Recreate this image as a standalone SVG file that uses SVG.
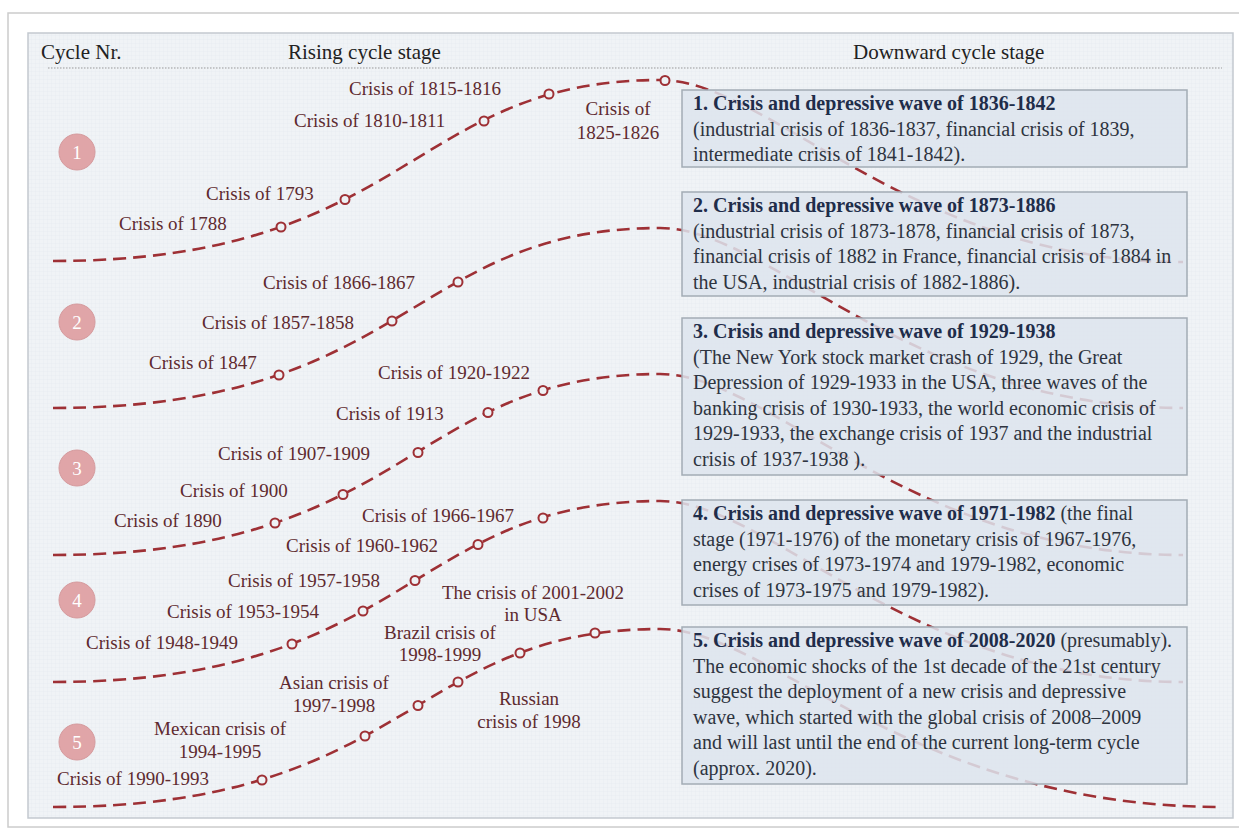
<svg xmlns="http://www.w3.org/2000/svg" width="1239" height="829" viewBox="0 0 1239 829">
<defs>
<pattern id="grid" width="4" height="4" patternUnits="userSpaceOnUse">
<rect width="4" height="4" fill="#f0f3f6"/>
<path d="M4,0V4M0,4H4" stroke="#e5e9ee" stroke-width="0.6"/>
</pattern>
<style>
.hdr{font-family:"Liberation Serif","Times New Roman",serif;font-size:21px;fill:#222}
.lbl{font-family:"Liberation Serif","Times New Roman",serif;font-size:19px;fill:#5e2a2f}
.lblc{font-family:"Liberation Serif","Times New Roman",serif;font-size:19px;fill:#5e2a2f;text-anchor:middle}
.box{fill:#dde4ed;fill-opacity:0.86;stroke:#a3acb5;stroke-width:1.5}
.bt{font-family:"Liberation Serif","Times New Roman",serif;font-size:20px;fill:#2e3440}
.bb{font-weight:bold;fill:#1f2d4a}
.curve{fill:none;stroke:#9e3035;stroke-width:2.6;stroke-dasharray:13 7}
.mk{fill:#eef2f5;stroke:#9e3035;stroke-width:2}
.cyc{fill:#e0a5a8;stroke:#d59a9d;stroke-width:1}
.cn{font-family:"Liberation Serif","Times New Roman",serif;font-size:19px;fill:#ffffff;text-anchor:middle}
</style>
</defs>
<rect x="0" y="0" width="1239" height="829" fill="#ffffff"/>
<rect x="8" y="13" width="1240" height="814" fill="#ffffff" stroke="#cccccc" stroke-width="1.5"/>
<rect x="28" y="33" width="1205" height="785" fill="url(#grid)" stroke="#c3c9cf" stroke-width="1.5"/>

<g id="header">
<text class="hdr" x="41" y="59">Cycle Nr.</text>
<text class="hdr" x="288" y="59">Rising cycle stage</text>
<text class="hdr" x="853" y="59">Downward cycle stage</text>
<line x1="48" y1="68" x2="1222" y2="68" stroke="#9a9a9a" stroke-width="1" stroke-dasharray="1.5 1.5"/>
</g>

<g id="connectors">
<path class="curve" d="M53,261 C410,261 410,80 660,80 C770,80 910,262 1183,262"/>
<path class="curve" d="M53,408 C410,408 410,228 660,228 C770,228 910,408 1183,408"/>
<path class="curve" d="M53,555 C410,555 410,374 660,374 C770,374 910,555 1183,555"/>
<path class="curve" d="M53,682 C410,682 410,501 660,501 C770,501 910,682 1183,682"/>
<path class="curve" d="M53,807 C410,807 410,629 660,629 C770,629 910,807 1222,807"/>
</g>

<g id="markers">
<circle class="mk" cx="281" cy="227" r="4.5"/>
<circle class="mk" cx="345" cy="199.5" r="4.5"/>
<circle class="mk" cx="484" cy="121" r="4.5"/>
<circle class="mk" cx="549" cy="94" r="4.5"/>
<circle class="mk" cx="665" cy="80.5" r="4.5"/>
<circle class="mk" cx="279" cy="375" r="4.5"/>
<circle class="mk" cx="392" cy="321" r="4.5"/>
<circle class="mk" cx="458" cy="282" r="4.5"/>
<circle class="mk" cx="275" cy="523" r="4.5"/>
<circle class="mk" cx="343" cy="494.5" r="4.5"/>
<circle class="mk" cx="418" cy="452.5" r="4.5"/>
<circle class="mk" cx="488" cy="412.5" r="4.5"/>
<circle class="mk" cx="543" cy="390.5" r="4.5"/>
<circle class="mk" cx="292" cy="644" r="4.5"/>
<circle class="mk" cx="363" cy="611" r="4.5"/>
<circle class="mk" cx="415" cy="580.5" r="4.5"/>
<circle class="mk" cx="478" cy="544.5" r="4.5"/>
<circle class="mk" cx="543" cy="518" r="4.5"/>
<circle class="mk" cx="262" cy="780" r="4.5"/>
<circle class="mk" cx="365" cy="736" r="4.5"/>
<circle class="mk" cx="418" cy="705.5" r="4.5"/>
<circle class="mk" cx="458" cy="682" r="4.5"/>
<circle class="mk" cx="520" cy="653" r="4.5"/>
<circle class="mk" cx="595" cy="633" r="4.5"/>
</g>

<g id="box1">
<rect class="box" x="682" y="90" width="505" height="77"/>
<text class="bt" x="693" y="110"><tspan class="bb">1. Crisis and depressive wave of 1836-1842</tspan><tspan x="693" dy="25.6">(industrial crisis of 1836-1837, financial crisis of 1839,</tspan><tspan x="693" dy="25.6">intermediate crisis of 1841-1842).</tspan></text>
</g>
<g id="box2">
<rect class="box" x="682" y="192" width="505" height="104"/>
<text class="bt" x="693" y="212"><tspan class="bb">2. Crisis and depressive wave of 1873-1886</tspan><tspan x="693" dy="25.6">(industrial crisis of 1873-1878, financial crisis of 1873,</tspan><tspan x="693" dy="25.6">financial crisis of 1882 in France, financial crisis of 1884 in</tspan><tspan x="693" dy="25.6">the USA, industrial crisis of 1882-1886).</tspan></text>
</g>
<g id="box3">
<rect class="box" x="682" y="318" width="505" height="157"/>
<text class="bt" x="693" y="338"><tspan class="bb">3. Crisis and depressive wave of 1929-1938</tspan><tspan x="693" dy="25.6">(The New York stock market crash of 1929, the Great</tspan><tspan x="693" dy="25.6">Depression of 1929-1933 in the USA, three waves of the</tspan><tspan x="693" dy="25.6">banking crisis of 1930-1933, the world economic crisis of</tspan><tspan x="693" dy="25.6">1929-1933, the exchange crisis of 1937 and the industrial</tspan><tspan x="693" dy="25.6">crisis of 1937-1938 ).</tspan></text>
</g>
<g id="box4">
<rect class="box" x="682" y="500" width="505" height="105"/>
<text class="bt" x="693" y="520"><tspan class="bb">4. Crisis and depressive wave of 1971-1982</tspan> (the final<tspan x="693" dy="25.6">stage (1971-1976) of the monetary crisis of 1967-1976,</tspan><tspan x="693" dy="25.6">energy crises of 1973-1974 and 1979-1982, economic</tspan><tspan x="693" dy="25.6">crises of 1973-1975 and 1979-1982).</tspan></text>
</g>
<g id="box5">
<rect class="box" x="682" y="627" width="505" height="157"/>
<text class="bt" x="693" y="647"><tspan class="bb">5. Crisis and depressive wave of 2008-2020</tspan> (presumably).<tspan x="693" dy="25.6">The economic shocks of the 1st decade of the 21st century</tspan><tspan x="693" dy="25.6">suggest the deployment of a new crisis and depressive</tspan><tspan x="693" dy="25.6">wave, which started with the global crisis of 2008–2009</tspan><tspan x="693" dy="25.6">and will last until the end of the current long-term cycle</tspan><tspan x="693" dy="25.6">(approx. 2020).</tspan></text>
</g>

<g id="labels1">
<text class="lbl" x="349" y="95">Crisis of 1815-1816</text>
<text class="lbl" x="294" y="127">Crisis of 1810-1811</text>
<text class="lblc" x="618" y="115">Crisis of<tspan x="618" dy="24">1825-1826</tspan></text>
<text class="lbl" x="206" y="200">Crisis of 1793</text>
<text class="lbl" x="119" y="230">Crisis of 1788</text>
</g>
<g id="labels2">
<text class="lbl" x="263" y="289">Crisis of 1866-1867</text>
<text class="lbl" x="202" y="329">Crisis of 1857-1858</text>
<text class="lbl" x="149" y="369">Crisis of 1847</text>
</g>
<g id="labels3">
<text class="lbl" x="378" y="379">Crisis of 1920-1922</text>
<text class="lbl" x="336" y="420">Crisis of 1913</text>
<text class="lbl" x="218" y="460">Crisis of 1907-1909</text>
<text class="lbl" x="180" y="497">Crisis of 1900</text>
<text class="lbl" x="114" y="527">Crisis of 1890</text>
</g>
<g id="labels4">
<text class="lbl" x="362" y="522">Crisis of 1966-1967</text>
<text class="lbl" x="286" y="552">Crisis of 1960-1962</text>
<text class="lbl" x="228" y="587">Crisis of 1957-1958</text>
<text class="lbl" x="167" y="618">Crisis of 1953-1954</text>
<text class="lbl" x="86" y="649">Crisis of 1948-1949</text>
</g>
<g id="labels5">
<text class="lblc" x="533" y="599">The crisis of 2001-2002<tspan x="533" dy="22">in USA</tspan></text>
<text class="lblc" x="440" y="639">Brazil crisis of<tspan x="440" dy="22">1998-1999</tspan></text>
<text class="lblc" x="334" y="689">Asian crisis of<tspan x="334" dy="23">1997-1998</tspan></text>
<text class="lblc" x="220" y="735">Mexican crisis of<tspan x="220" dy="23">1994-1995</tspan></text>
<text class="lbl" x="57" y="785">Crisis of 1990-1993</text>
<text class="lblc" x="529" y="705">Russian<tspan x="529" dy="23">crisis of 1998</tspan></text>
</g>

<g id="cycle1"><circle class="cyc" cx="77" cy="152" r="18"/><text class="cn" x="77" y="159">1</text></g>
<g id="cycle2"><circle class="cyc" cx="77" cy="322" r="18"/><text class="cn" x="77" y="329">2</text></g>
<g id="cycle3"><circle class="cyc" cx="77" cy="468" r="18"/><text class="cn" x="77" y="475">3</text></g>
<g id="cycle4"><circle class="cyc" cx="77" cy="600" r="18"/><text class="cn" x="77" y="607">4</text></g>
<g id="cycle5"><circle class="cyc" cx="77" cy="742" r="18"/><text class="cn" x="77" y="749">5</text></g>
</svg>
